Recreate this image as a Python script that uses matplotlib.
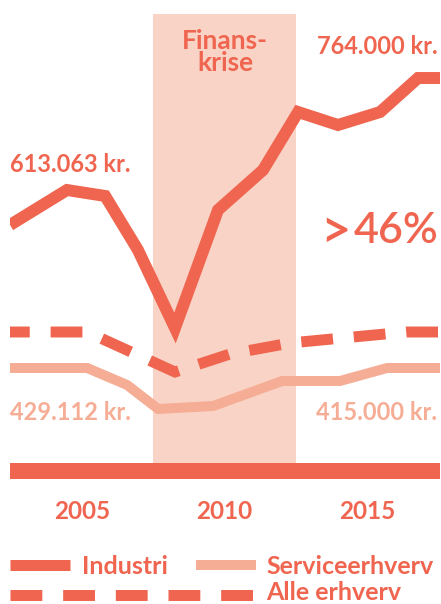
import matplotlib
matplotlib.use("Agg")
import matplotlib.pyplot as plt
from matplotlib.lines import Line2D

plt.rcParams["font.family"] = ["Lato", "DejaVu Sans"]

RED = "#EF654F"
LIGHT = "#F6AD95"
SHADE = "#F9D4C6"

# index values (height above the base bar)
industri_x = [2002.47, 2004.47, 2005.81, 2006.96, 2008.26, 2009.77,
              2011.35, 2012.58, 2013.98, 2015.46, 2016.79, 2017.56]
industri_y = [254, 289, 283, 229, 151, 269, 309, 367, 354, 367, 401, 401]

service_x = [2002.47, 2005.18, 2006.58, 2007.67, 2009.60, 2012.02,
             2014.05, 2015.70, 2017.56]
service_y = [111, 111, 94, 70, 73, 98, 98, 111, 111]

alle_x = [2002.47, 2005.18, 2008.26, 2010.19, 2012.30, 2014.51, 2016.40, 2017.56]
alle_y = [147, 147, 107, 125, 136, 142, 147, 147]

crisis = (2007.5, 2012.5)
year_ticks = [2005, 2010, 2015]

W, H = 441, 604
fig = plt.figure(figsize=(W / 100, H / 100), dpi=100)
ax = fig.add_axes([10 / W, 1 - 479 / H, 430 / W, 465 / H])
ax.set_xlim(2002.47, 2017.56)
ax.set_ylim(0, 465)
for s in ax.spines.values():
    s.set_visible(False)
ax.set_yticks([])

ax.axvspan(*crisis, ymin=16 / 465, ymax=1, color=SHADE, lw=0, zorder=0)
ax.axhspan(0, 16, color=RED, lw=0, zorder=1)

ax.plot(service_x, service_y, color=LIGHT, lw=7.2, solid_joinstyle="miter",
        solid_capstyle="butt", zorder=2)
ax.plot(alle_x, alle_y, color=RED, lw=7.9, linestyle=(1.1, (2.9, 1.9)),
        dash_joinstyle="miter", dash_capstyle="butt", zorder=3)
ax.plot(industri_x, industri_y, color=RED, lw=8.6, solid_joinstyle="miter",
        solid_capstyle="butt", zorder=4)

ax.set_xticks(year_ticks)
ax.set_xticklabels([str(y) for y in year_ticks], fontsize=17.5, fontweight="bold",
                   color=RED)
ax.tick_params(axis="x", length=0, pad=15)


def ftext(x, y, s, **kw):
    fig.text(x / W, 1 - y / H, s, **kw)


ftext(225, 52, "Finans-\nkrise", fontsize=19, fontweight="bold", color=RED,
      ha="center", va="center", linespacing=0.9)
ftext(438, 46, "764.000 kr.", fontsize=17, fontweight="bold", color=RED,
      ha="right", va="center")
ftext(10, 165, "613.063 kr.", fontsize=17, fontweight="bold", color=RED,
      ha="left", va="center")
ftext(351, 232, ">", fontsize=38, fontweight="semibold", color=RED,
      ha="right", va="center")
ftext(438, 231, "46%", fontsize=31, fontweight="semibold", color=RED,
      ha="right", va="center")
ftext(10, 413, "429.112 kr.", fontsize=17, fontweight="bold", color=LIGHT,
      ha="left", va="center")
ftext(437, 413, "415.000 kr.", fontsize=17, fontweight="bold", color=LIGHT,
      ha="right", va="center")

# legend drawn by hand
def fline(x0, x1, y, **kw):
    fig.add_artist(Line2D([x0 / W, x1 / W], [1 - y / H, 1 - y / H],
                          transform=fig.transFigure, **kw))


fline(10, 70, 565, color=RED, lw=7.9, solid_capstyle="butt")
fline(196, 256, 565, color=LIGHT, lw=7.2, solid_capstyle="butt")
fline(10, 256, 595, color=RED, lw=7.9, linestyle=(0, (2.9, 1.9)),
      dash_capstyle="butt")
ftext(82, 566, "Industri", fontsize=18, fontweight="bold", color=RED,
      ha="left", va="center")
ftext(266, 566, "Serviceerhverv", fontsize=18, fontweight="bold", color=RED,
      ha="left", va="center")
ftext(266, 592, "Alle erhverv", fontsize=18, fontweight="bold", color=RED,
      ha="left", va="center")

fig.savefig("out.png", dpi=100)
